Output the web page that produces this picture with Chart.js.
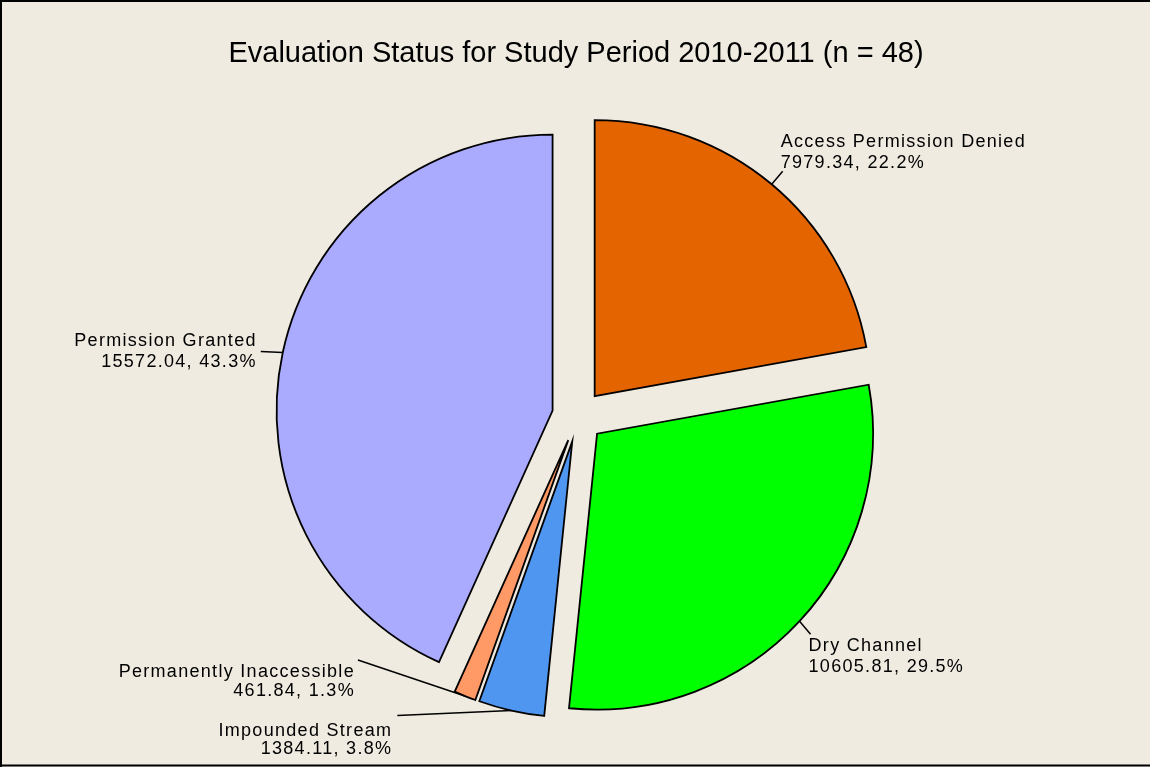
<!DOCTYPE html>
<html>
<head>
<meta charset="utf-8">
<script src="https://cdn.jsdelivr.net/npm/chart.js@4/dist/chart.umd.min.js"></script>
<style>
  html, body { margin: 0; padding: 0; background: #EFEBE1; }
  #wrap { position: relative; width: 1150px; height: 767px; }
  canvas { display: block; }
</style>
</head>
<body>
<div id="wrap"><canvas id="c" width="1150" height="767"></canvas></div>
<script>
// ---- data ----
const categories = ["Access Permission Denied", "Dry Channel", "Impounded Stream", "Permanently Inaccessible", "Permission Granted"];
const values = [7979.34, 10605.81, 1384.11, 461.84, 15572.04];
const percentLabels = ["22.2%", "29.5%", "3.8%", "1.3%", "43.3%"];
const titleText = "Evaluation Status for Study Period 2010-2011 (n = 48)";

// ---- styles ----
const sliceColors = ["#E46400", "#00FF00", "#4F96F0", "#FF9966", "#AAAAFF"];
const EXPLODE = 26;
const PIE_RADIUS = 276;
const labelFont = '18px "Liberation Sans", Arial, sans-serif';
// leader end offset from slice edge, alignment, text offsets (relative to leader end)
const labelStyle = [
  { lead: [11, -13], align: "left",  tx: -2, ty: [-29, -8] },
  { lead: [11, 13],  align: "left",  tx: -2, ty: [12, 33] },
  { lead: [-114, 5], align: "right", tx: -5, ty: [15, 33] },
  { lead: [-107, -36], align: "right", tx: -3, ty: [12, 31] },
  { lead: [-22, -1], align: "right", tx: -4, ty: [-10, 11] }
];

// explode every slice outward by a fixed distance
const Arc = Chart.elements.ArcElement;
const origDraw = Arc.prototype.draw;
Arc.prototype.draw = function (ctx) {
  const mid = (this.startAngle + this.endAngle) / 2;
  ctx.save();
  ctx.translate(Math.cos(mid) * EXPLODE, Math.sin(mid) * EXPLODE);
  origDraw.call(this, ctx);
  ctx.restore();
};

const framePlugin = {
  id: "frame",
  beforeDraw(chart) {
    const ctx = chart.ctx;
    ctx.save();
    ctx.fillStyle = "#EFEBE1";
    ctx.fillRect(0, 0, chart.width, chart.height);
    ctx.strokeStyle = "#000";
    ctx.lineWidth = 2;
    ctx.beginPath();
    ctx.moveTo(1, chart.height);
    ctx.lineTo(1, 1);
    ctx.lineTo(chart.width, 1);
    ctx.moveTo(0, chart.height - 1.5);
    ctx.lineTo(chart.width, chart.height - 1.5);
    ctx.stroke();
    ctx.restore();
  }
};

const titlePlugin = {
  id: "ptitle",
  afterDraw(chart) {
    const ctx = chart.ctx;
    ctx.save();
    ctx.font = '29px "Liberation Sans", Arial, sans-serif';
    ctx.fillStyle = "#000";
    ctx.textAlign = "center";
    ctx.textBaseline = "middle";
    ctx.fillText(titleText, 576, 54);
    ctx.restore();
  }
};

const labelPlugin = {
  id: "slicelabels",
  afterDatasetsDraw(chart) {
    const ctx = chart.ctx;
    const meta = chart.getDatasetMeta(0);
    ctx.save();
    ctx.font = labelFont;
    ctx.fillStyle = "#000";
    ctx.strokeStyle = "#000";
    ctx.lineWidth = 1.5;
    ctx.textBaseline = "middle";
    try { ctx.letterSpacing = "1.3px"; } catch (e) {}
    meta.data.forEach((arc, i) => {
      const mid = (arc.startAngle + arc.endAngle) / 2;
      const r = arc.outerRadius + EXPLODE;
      const px = arc.x + Math.cos(mid) * r;
      const py = arc.y + Math.sin(mid) * r;
      const st = labelStyle[i];
      const qx = px + st.lead[0];
      const qy = py + st.lead[1];
      ctx.beginPath();
      ctx.moveTo(px, py);
      ctx.lineTo(qx, qy);
      ctx.stroke();
      ctx.textAlign = st.align;
      const line2 = values[i].toFixed(2) + ", " + percentLabels[i];
      const x = qx + st.tx;
      ctx.fillText(categories[i], x, qy + st.ty[0]);
      ctx.fillText(line2, x, qy + st.ty[1]);
    });
    ctx.restore();
  }
};

new Chart(document.getElementById("c"), {
  type: "pie",
  data: {
    labels: categories,
    datasets: [{
      data: values,
      backgroundColor: sliceColors,
      borderColor: "#000",
      borderWidth: 1.8,
      borderJoinStyle: "miter",
      offset: 0,
      hoverOffset: 0
    }]
  },
  options: {
    responsive: false,
    animation: false,
    radius: PIE_RADIUS,
    layout: { padding: { left: 6, right: 0, top: 65, bottom: 0 } },
    plugins: {
      legend: { display: false },
      tooltip: { enabled: false },
      title: { display: false }
    },
    events: []
  },
  plugins: [framePlugin, titlePlugin, labelPlugin]
});
</script>
</body>
</html>
